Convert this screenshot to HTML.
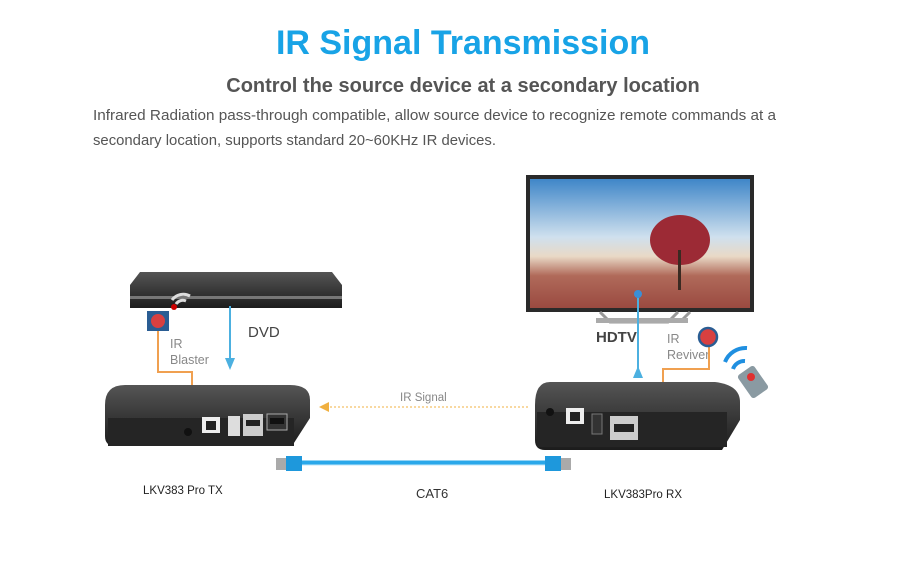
<!DOCTYPE html>
<html><head><meta charset="utf-8"><style>
body{margin:0;width:900px;height:569px;background:#fff;overflow:hidden;font-family:"Liberation Sans",sans-serif}
</style></head><body>
<svg width="900" height="569" viewBox="0 0 900 569" xmlns="http://www.w3.org/2000/svg" font-family="Liberation Sans, sans-serif">
<defs>
<linearGradient id="sky" x1="0" y1="0" x2="0" y2="1">
<stop offset="0" stop-color="#3f86c8"/><stop offset="0.45" stop-color="#cfe0ee"/><stop offset="0.6" stop-color="#e9d9c6"/><stop offset="0.75" stop-color="#b06a5a"/><stop offset="1" stop-color="#9a4a40"/></linearGradient>
<linearGradient id="box" x1="0" y1="0" x2="0" y2="1"><stop offset="0" stop-color="#555"/><stop offset="1" stop-color="#1c1c1c"/></linearGradient>
</defs>
<text x="463" y="54" text-anchor="middle" font-size="34" font-weight="bold" fill="#18a3e6">IR Signal Transmission</text>
<text x="463" y="92" text-anchor="middle" font-size="20" font-weight="bold" fill="#555">Control the source device at a secondary location</text>
<text x="93" y="120" font-size="14.5" fill="#555" textLength="683" lengthAdjust="spacingAndGlyphs">Infrared Radiation pass-through compatible, allow source device to recognize remote commands at a</text>
<text x="93" y="145" font-size="14.5" fill="#555" textLength="403" lengthAdjust="spacingAndGlyphs">secondary location, supports standard 20~60KHz IR devices.</text>
<!-- TV -->
<rect x="526" y="175" width="228" height="137" fill="#2a2a2a"/>
<rect x="530" y="179" width="220" height="129" fill="url(#sky)"/>
<ellipse cx="680" cy="240" rx="30" ry="25" fill="#9c2a35"/>
<rect x="678" y="250" width="3" height="40" fill="#3a2a22"/>
<path d="M600 312 L610 322 L668 322 L678 312 M690 312 L680 322" stroke="#999" stroke-width="3" fill="none"/>
<rect x="596" y="318" width="92" height="5" fill="#aaa"/>
<!-- DVD -->
<path d="M140 272 L332 272 L342 285 L342 308 L130 308 L130 285 Z" fill="url(#box)"/>
<rect x="130" y="296" width="212" height="3" fill="#777"/>
<path d="M172 300 a14 14 0 0 1 18 -4 M176 304 a8 8 0 0 1 10 -3" stroke="#ddd" stroke-width="3" fill="none"/>
<circle cx="174" cy="307" r="3" fill="#c00"/>
<rect x="147" y="311" width="22" height="20" fill="#2a5d93"/>
<circle cx="158" cy="321" r="7" fill="#d84040"/>
<path d="M158 331 V372 H192 V385" stroke="#f0a050" stroke-width="2" fill="none"/>
<text x="170" y="348" font-size="12.5" fill="#888">IR</text>
<text x="170" y="364" font-size="12.5" fill="#888">Blaster</text>
<line x1="230" y1="306" x2="230" y2="360" stroke="#4cb0e0" stroke-width="2"/>
<path d="M225 358 L235 358 L230 370 Z" fill="#4cb0e0"/>
<text x="248" y="337" font-size="15" fill="#444">DVD</text>
<!-- TX -->
<path d="M125 385 L290 385 Q310 385 310 400 L310 418 L292 446 L115 446 Q105 446 105 436 L105 405 Q105 385 125 385 Z" fill="url(#box)"/>
<rect x="108" y="418" width="186" height="28" fill="#252525"/>
<rect x="202" y="417" width="18" height="16" fill="#eee"/><rect x="206" y="421" width="10" height="9" fill="#222"/>
<rect x="228" y="416" width="12" height="20" fill="#ddd"/>
<rect x="243" y="414" width="20" height="22" fill="#ccc"/><rect x="246" y="420" width="14" height="6" fill="#222"/>
<rect x="267" y="414" width="20" height="16" fill="#333" stroke="#aaa"/><rect x="270" y="418" width="14" height="6" fill="#111"/>
<circle cx="188" cy="432" r="4" fill="#111"/>
<line x1="322" y1="407" x2="530" y2="407" stroke="#f0b040" stroke-width="1" stroke-dasharray="2,2"/>
<path d="M329 402 L319 407 L329 412 Z" fill="#f0b040"/>
<text x="400" y="401" font-size="11.5" fill="#888">IR Signal</text>
<!-- cable -->
<line x1="300" y1="463" x2="545" y2="463" stroke="#2aa8ea" stroke-width="5"/>
<line x1="300" y1="465" x2="545" y2="465" stroke="#bfe6fa" stroke-width="1"/>
<rect x="276" y="458" width="10" height="12" fill="#aaa"/><rect x="286" y="456" width="16" height="15" fill="#1e98dc"/>
<rect x="545" y="456" width="16" height="15" fill="#1e98dc"/><rect x="561" y="458" width="10" height="12" fill="#aaa"/>
<text x="143" y="494" font-size="11.5" fill="#222">LKV383 Pro TX</text>
<text x="416" y="498" font-size="13" fill="#333">CAT6</text>
<text x="604" y="498" font-size="11.5" fill="#222">LKV383Pro RX</text>
<!-- RX -->
<path d="M550 382 L715 382 Q740 385 740 402 L740 420 L722 450 L545 450 Q535 450 535 440 L535 405 Q535 382 550 382 Z" fill="url(#box)"/>
<rect x="537" y="412" width="190" height="35" fill="#252525"/>
<rect x="566" y="408" width="18" height="16" fill="#eee"/><rect x="570" y="412" width="10" height="9" fill="#222"/>
<rect x="592" y="414" width="10" height="20" fill="#333" stroke="#777"/>
<rect x="610" y="416" width="28" height="24" fill="#ccc"/><rect x="614" y="424" width="20" height="8" fill="#222"/>
<circle cx="550" cy="412" r="4" fill="#111"/>
<line x1="638" y1="292" x2="638" y2="375" stroke="#4cb0e0" stroke-width="2"/>
<circle cx="638" cy="294" r="4" fill="#3a8fd6"/>
<path d="M633 378 L643 378 L638 366 Z" fill="#4cb0e0"/>
<text x="596" y="342" font-size="15" font-weight="bold" fill="#444">HDTV</text>
<text x="667" y="343" font-size="12.5" fill="#888">IR</text>
<text x="667" y="359" font-size="12.5" fill="#888">Reviver</text>
<path d="M663 382 V369 H709 V345" stroke="#f0a050" stroke-width="2" fill="none"/>
<circle cx="708" cy="337" r="9" fill="#d84040" stroke="#2a5d93" stroke-width="2.5"/>
<path d="M725 362 a22 22 0 0 1 22 -14 M733 369 a12 12 0 0 1 12 -8" stroke="#1f8fe0" stroke-width="4" fill="none"/>
<rect x="743" y="368" width="20" height="28" rx="3" fill="#8a9aa2" transform="rotate(-35 753 382)"/>
<circle cx="751" cy="377" r="4" fill="#e03030"/>
</svg>
</body></html>
